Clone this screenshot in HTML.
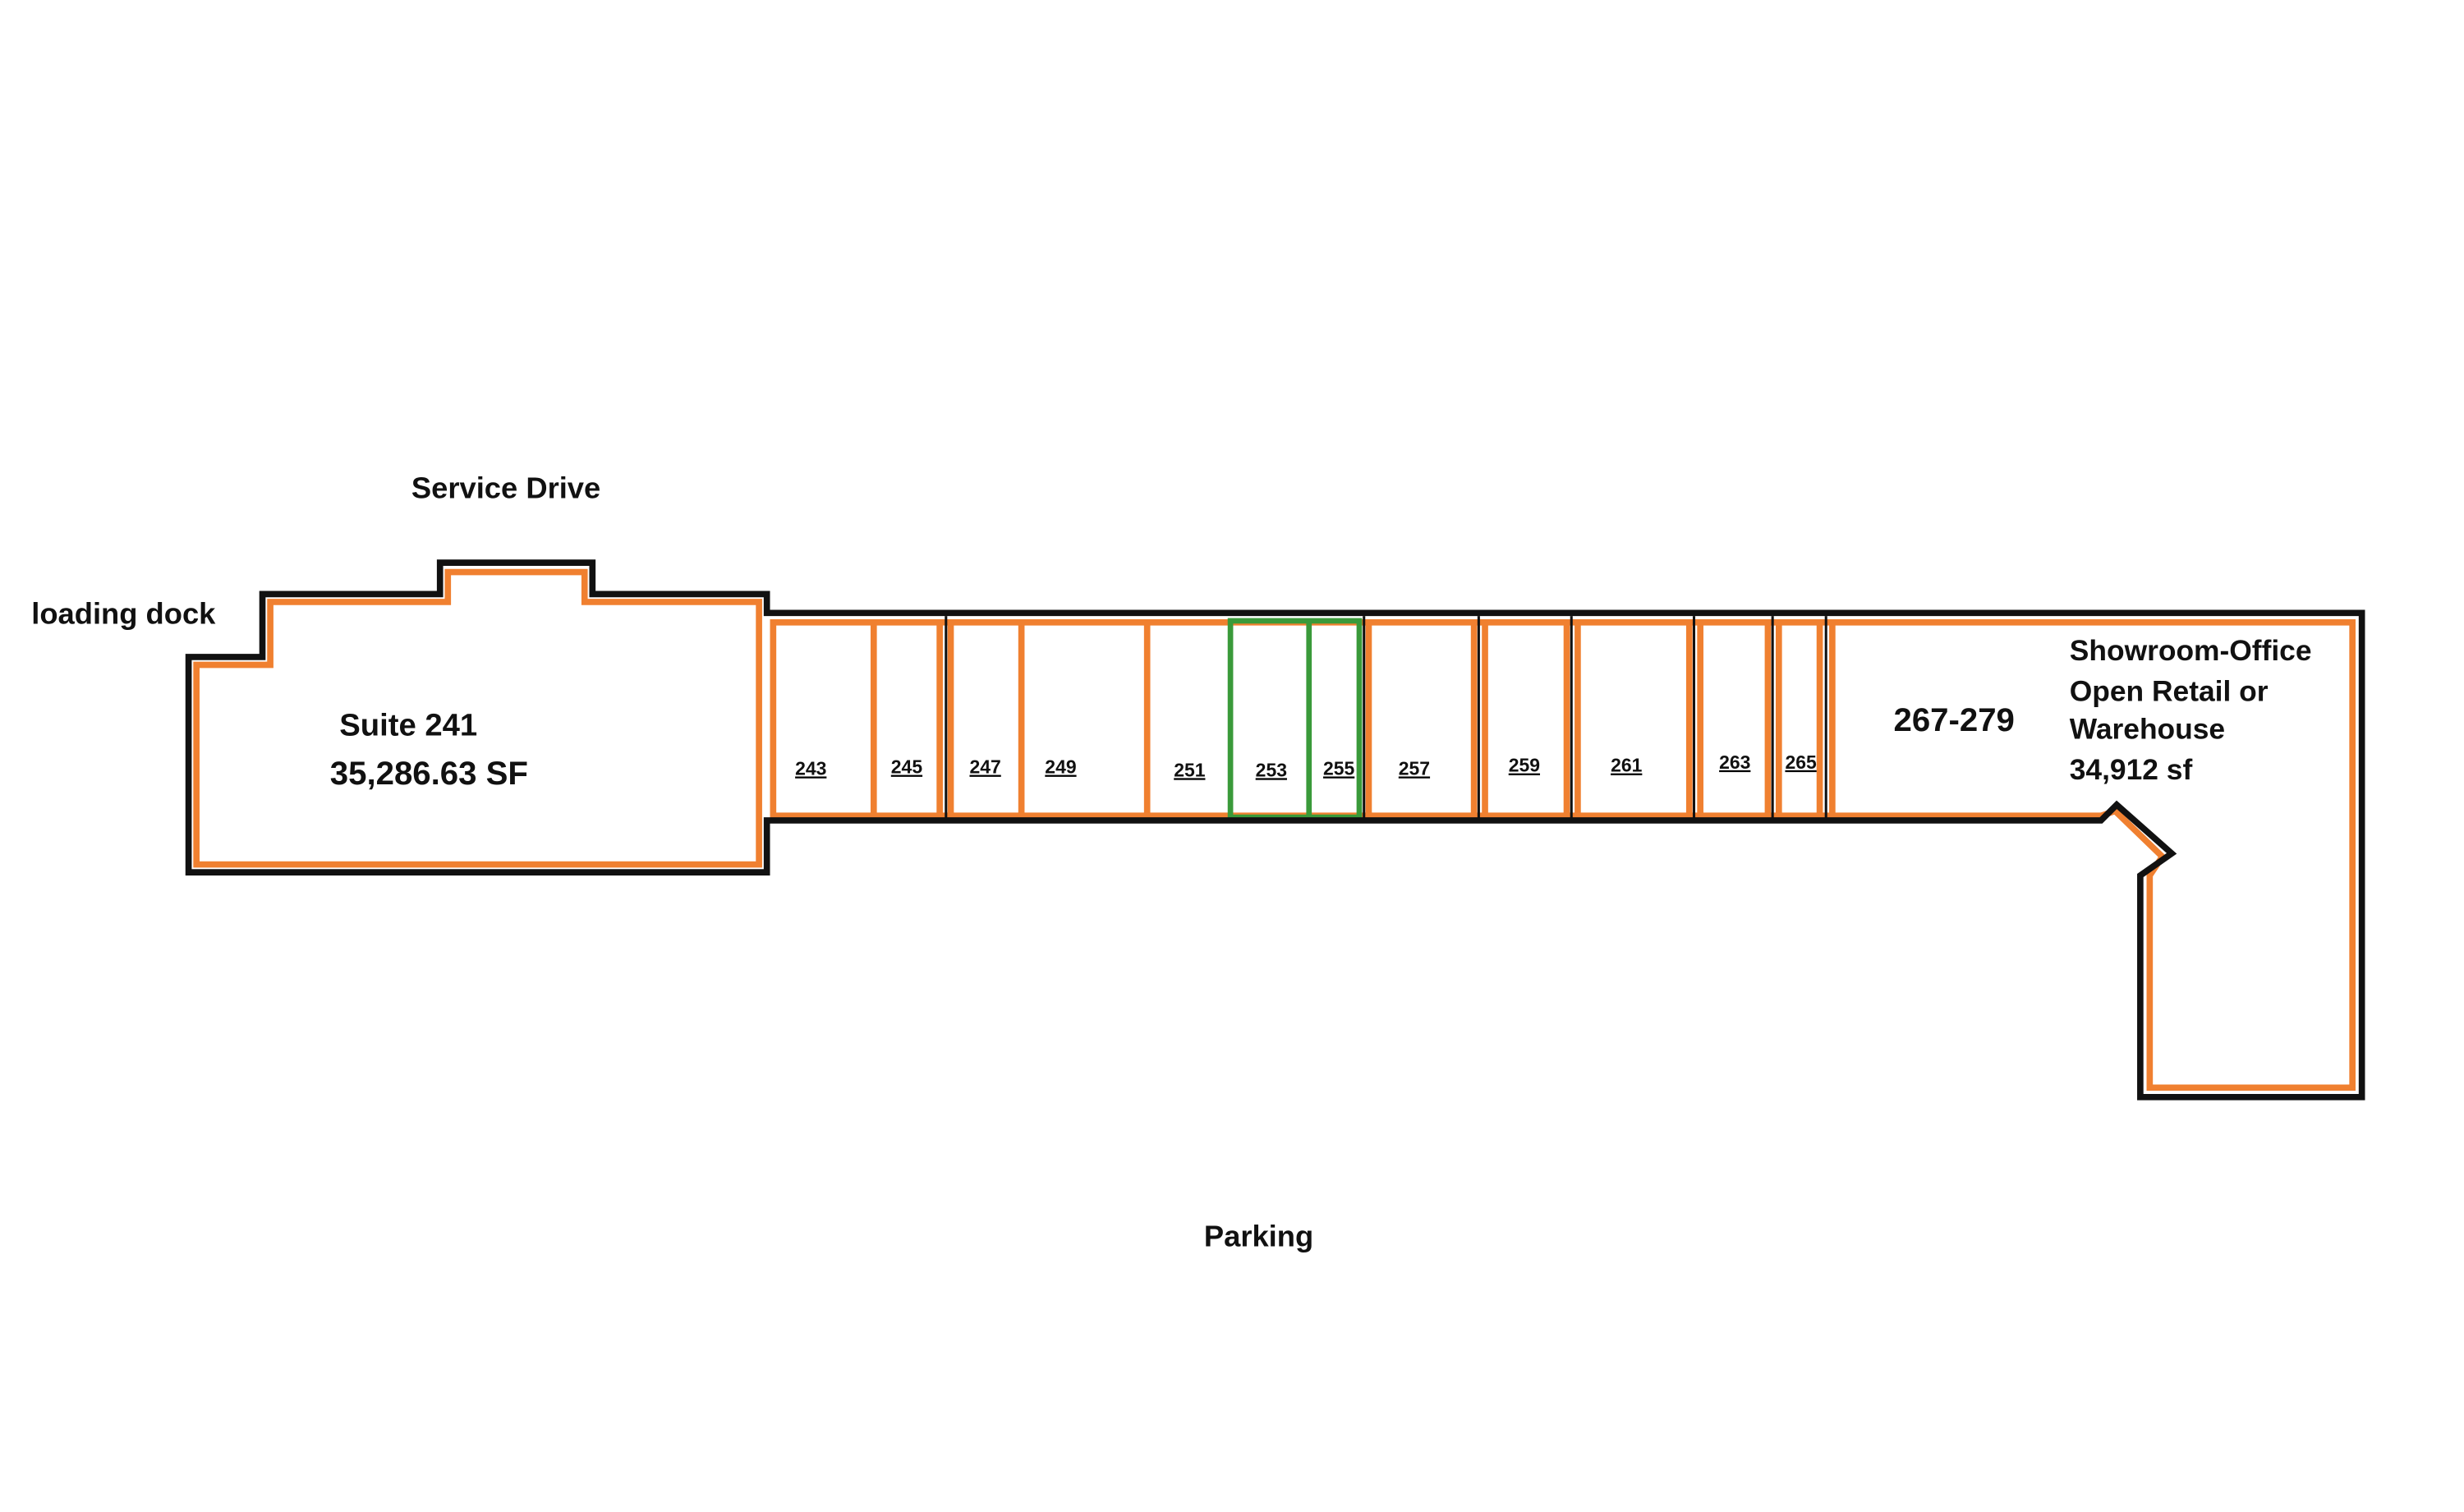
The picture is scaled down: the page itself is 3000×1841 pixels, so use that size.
<!DOCTYPE html>
<html><head><style>
html,body{margin:0;padding:0;background:#fff;}
svg{display:block;}
text{font-family:"Liberation Sans Narrow","Liberation Sans",sans-serif;font-weight:bold;fill:#111;}
</style></head><body>
<svg width="3000" height="1841" viewBox="0 0 1568 962" preserveAspectRatio="none" xmlns="http://www.w3.org/2000/svg">
<rect width="1568" height="962" fill="#fff"/>
<!-- orange inner outline -->
<g fill="none" stroke="#f08030" stroke-width="4">
<path d="M125,550 L125,423 L172,423 L172,383 L285,383 L285,364 L372,364 L372,383 L483,383 L483,550 Z"/>
<path d="M492,396 L1497,396 L1497,692 L1368,692 L1368,557 L1376,545 L1346,516 L1337,519 L492,519 Z"/>
</g>
<!-- unit dividers orange -->
<g stroke="#f08030" stroke-width="4">
<line x1="556" y1="396" x2="556" y2="519"/>
<line x1="598" y1="396" x2="598" y2="519"/>
<line x1="605" y1="396" x2="605" y2="519"/>
<line x1="650" y1="396" x2="650" y2="519"/>
<line x1="730" y1="396" x2="730" y2="519"/>
<line x1="871" y1="396" x2="871" y2="519"/>
<line x1="938" y1="396" x2="938" y2="519"/>
<line x1="945" y1="396" x2="945" y2="519"/>
<line x1="997" y1="396" x2="997" y2="519"/>
<line x1="1004" y1="396" x2="1004" y2="519"/>
<line x1="1075" y1="396" x2="1075" y2="519"/>
<line x1="1082" y1="396" x2="1082" y2="519"/>
<line x1="1125" y1="396" x2="1125" y2="519"/>
<line x1="1132" y1="396" x2="1132" y2="519"/>
<line x1="1158" y1="396" x2="1158" y2="519"/>
<line x1="1166" y1="396" x2="1166" y2="519"/>
</g>
<!-- green units -->
<g stroke="#3a9a3a" stroke-width="3.5" fill="none">
<rect x="783" y="395" width="82" height="125"/>
<line x1="833" y1="395" x2="833" y2="520"/>
</g>
<!-- black thin dividers -->
<g stroke="#111" stroke-width="1.6">
<line x1="602" y1="392" x2="602" y2="522"/>
<line x1="868" y1="392" x2="868" y2="522"/>
<line x1="941" y1="392" x2="941" y2="522"/>
<line x1="1000" y1="392" x2="1000" y2="522"/>
<line x1="1078" y1="392" x2="1078" y2="522"/>
<line x1="1128" y1="392" x2="1128" y2="522"/>
<line x1="1162" y1="392" x2="1162" y2="522"/>
</g>
<!-- black outer outline -->
<g fill="none" stroke="#111" stroke-width="4" stroke-linejoin="miter">
<path d="M120,555 L120,418 L167,418 L167,378 L280,378 L280,358 L377,358 L377,378 L488,378 L488,390 L1503,390 L1503,698 L1362,698 L1362,557 L1382,543 L1347,512 L1337,522 L488,522 L488,555 Z"/>
</g>
<!-- labels -->
<text x="322" y="317" font-size="19" text-anchor="middle">Service Drive</text>
<text x="20" y="397" font-size="19">loading dock</text>
<text x="216" y="468" font-size="20">Suite 241</text>
<text x="210" y="499" font-size="21">35,286.63 SF</text>
<text x="1205" y="465" font-size="21">267-279</text>
<text x="1317" y="420" font-size="18.5">Showroom-Office</text>
<text x="1317" y="446" font-size="18.5">Open Retail or</text>
<text x="1317" y="470" font-size="18.5">Warehouse</text>
<text x="1317" y="496" font-size="18.5">34,912 sf</text>
<text x="801" y="793" font-size="19" text-anchor="middle">Parking</text>
<g font-size="12" text-decoration="underline" text-anchor="middle">
<text x="516" y="493">243</text>
<text x="577" y="492">245</text>
<text x="627" y="492">247</text>
<text x="675" y="492">249</text>
<text x="757" y="494">251</text>
<text x="809" y="494">253</text>
<text x="852" y="493">255</text>
<text x="900" y="493">257</text>
<text x="970" y="491">259</text>
<text x="1035" y="491">261</text>
<text x="1104" y="489">263</text>
<text x="1146" y="489">265</text>
</g>
</svg>
</body></html>
